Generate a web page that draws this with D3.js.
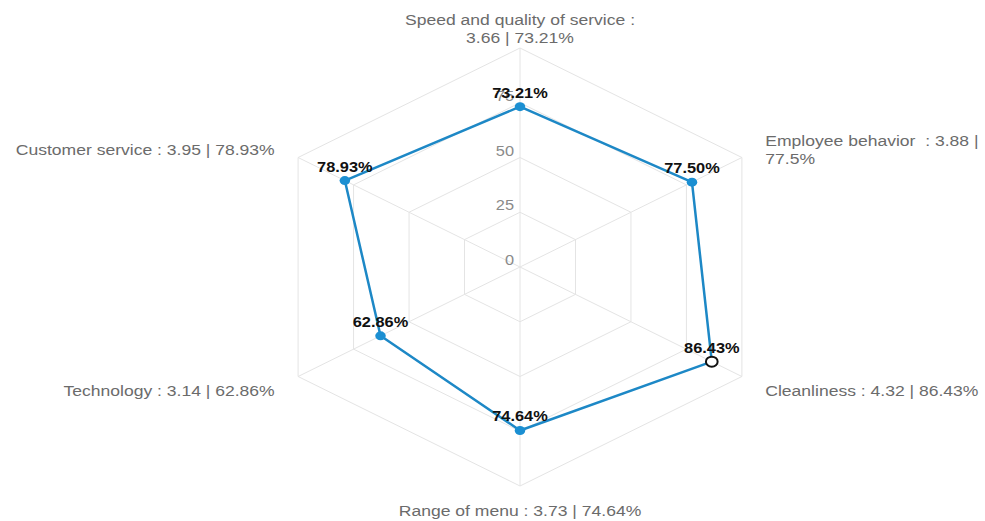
<!DOCTYPE html>
<html lang="en">
<head>
    <meta charset="UTF-8">
    <title>Service radar</title>
    <style>
        body {
            margin: 0;
            background: #fff;
            font-family: "Liberation Sans", Arial, sans-serif;
        }
        .grid { fill: none; stroke: #e4e4e4; stroke-width: 1; }
        .axis-label { fill: #6b6b6b; font-size: 15px; white-space: pre; }
        .tick-label { fill: #8a8a8a; font-size: 14px; }
        .data-label { fill: #111; font-size: 14px; font-weight: bold; }
    </style>
</head>
<body>
<svg id="chart"></svg>

<script src="https://d3js.org/d3.v7.min.js"></script>
<script>
    // Chart data
    const categories = ["Speed and quality of service", "Employee behavior ", "Cleanliness", "Range of menu", "Technology", "Customer service"];
    const scores = ["3.66", "3.88", "4.32", "3.73", "3.14", "3.95"];
    const percents = [73.21, 77.5, 86.43, 74.64, 62.86, 78.93];
    const ticks = [0, 25, 50, 75, 100];
    const tickLabels = ["0", "25", "50", "75"];
    // where a long axis label wraps (after this character)
    const wrapAfter = [":", "|", null, null, null, null];
    const hovered = 2;

    const width = 985, height = 521;
    const cx = 520, cy = 267;
    const stretch = 1.17;   // picture is wider than tall

    const svg = d3.select("#chart")
        .attr("width", width)
        .attr("height", height);

    const r = d3.scaleLinear().domain([0, 100]).range([0, 219]);
    const angle = d3.scalePoint().domain(d3.range(categories.length + 1)).range([0, 2 * Math.PI]);

    const px = (i, v) => cx + r(v) * Math.sin(angle(i)) * stretch;
    const py = (i, v) => cy - r(v) * Math.cos(angle(i));

    // grid polygons
    const idx = d3.range(categories.length);
    svg.selectAll(".ring")
        .data(ticks.slice(1))
        .enter()
        .append("polygon")
        .attr("class", "grid")
        .attr("points", t => idx.map(i => `${px(i, t)},${py(i, t)}`).join(" "));

    // spokes
    svg.selectAll(".spoke")
        .data(idx)
        .enter()
        .append("line")
        .attr("class", "grid")
        .attr("x1", cx).attr("y1", cy)
        .attr("x2", i => px(i, 100))
        .attr("y2", i => py(i, 100));

    // tick labels along the top spoke
    svg.selectAll(".tick-label")
        .data(tickLabels)
        .enter()
        .append("text")
        .attr("class", "tick-label")
        .attr("text-anchor", "end")
        .attr("transform", d => `translate(${cx - 6},${py(0, +d) - 2}) scale(${stretch},1)`)
        .text(d => d);

    // axis labels
    const labelText = i => {
        const full = `${categories[i]} : ${scores[i]} | ${percents[i]}%`;
        const c = wrapAfter[i];
        if (!c) return [full];
        const k = full.indexOf(c) + 1;
        return [full.slice(0, k).trimEnd(), full.slice(k).trim()];
    };

    const lineH = 18;
    idx.forEach(i => {
        const a = angle(i);
        const s = Math.sin(a);
        const lx = px(i, 100) + s * 27;
        const ly = py(i, 100) - Math.cos(a) * 22 + 3;
        const anchor = s > 0.1 ? "start" : s < -0.1 ? "end" : "middle";
        const lines = labelText(i);
        lines.forEach((t, k) => {
            svg.append("text")
                .attr("class", "axis-label")
                .attr("text-anchor", anchor)
                .attr("transform", `translate(${lx},${ly + 5 + (k - (lines.length - 1) / 2) * lineH}) scale(${stretch},1)`)
                .text(t);
        });
    });

    // series line
    const line = d3.line()
        .x((d, i) => px(i, d))
        .y((d, i) => py(i, d))
        .curve(d3.curveLinearClosed);

    svg.append("path")
        .attr("d", line(percents))
        .attr("fill", "none")
        .attr("stroke", "#1d88c6")
        .attr("stroke-width", 2.5)
        .attr("stroke-linejoin", "round");

    // points
    svg.selectAll(".point")
        .data(percents)
        .enter()
        .append("ellipse")
        .attr("cx", (d, i) => px(i, d))
        .attr("cy", (d, i) => py(i, d))
        .attr("rx", (d, i) => (i === hovered ? 5 : 4.5) * stretch)
        .attr("ry", (d, i) => i === hovered ? 5 : 4.5)
        .attr("fill", (d, i) => i === hovered ? "#fff" : "#1b8fd2")
        .attr("stroke", (d, i) => i === hovered ? "#111" : "none")
        .attr("stroke-width", 2);

    // data labels
    svg.selectAll(".data-label")
        .data(percents)
        .enter()
        .append("text")
        .attr("class", "data-label")
        .attr("text-anchor", "middle")
        .attr("transform", (d, i) => `translate(${px(i, d)},${py(i, d) - 9}) scale(${stretch},1)`)
        .text(d => d.toFixed(2) + "%");
</script>
</body>
</html>
